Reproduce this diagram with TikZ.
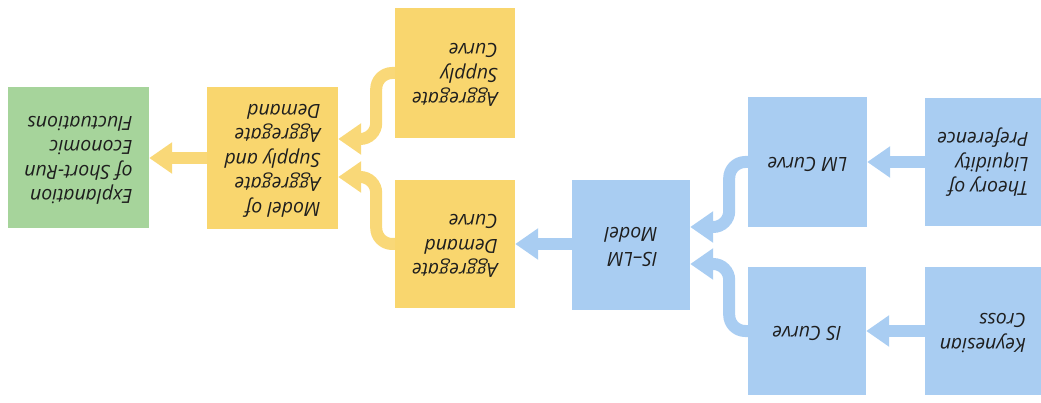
\documentclass[tikz,border=0pt]{standalone}
\usepackage{fontspec}
\setmainfont{Open Sans}
\usepackage{graphicx}
\usetikzlibrary{arrows.meta,calc}
\definecolor{bluebox}{HTML}{A9CDF2}
\definecolor{yellowbox}{HTML}{F9D66E}
\definecolor{greenbox}{HTML}{A6D49B}
\definecolor{bluearrow}{HTML}{A9CDF2}
\definecolor{yellowarrow}{HTML}{F9D878}
\definecolor{txt}{HTML}{1E1E1E}
\newcommand{\fliptext}[1]{\rotatebox{180}{\begin{tabular}{@{}l@{}}#1\end{tabular}}}
\tikzset{
  box/.style={rectangle, inner sep=0pt, draw=none, text=txt,
    font=\fontsize{19.5}{24.5}\selectfont\itshape},
  conn/.style={line width=12pt, rounded corners=16pt,
    -{Triangle[width=30pt,length=23pt]}},
  bconn/.style={conn, draw=bluearrow},
  yconn/.style={conn, draw=yellowarrow}
}
\begin{document}
\begin{tikzpicture}[x=1pt,y=-1pt]
\useasboundingbox (0,0) rectangle (1041,403);
% boxes
\node[box, fill=greenbox, minimum width=141pt, minimum height=141pt] (expl) at (78.5,158)
  {\fliptext{Explanation\\of Short-Run\\Economic\\Fluctuations}};
\node[box, fill=yellowbox, minimum width=131pt, minimum height=142pt] (model) at (272.5,158)
  {\fliptext{Model of\\Aggregate\\Supply and\\Aggregate\\Demand}};
\node[box, fill=yellowbox, minimum width=120pt, minimum height=130pt] (as) at (455,73)
  {\fliptext{Aggregate\\Supply\\Curve}};
\node[box, fill=yellowbox, minimum width=120pt, minimum height=128pt] (ad) at (455,244)
  {\fliptext{Aggregate\\Demand\\Curve}};
\node[box, fill=bluebox, minimum width=118pt, minimum height=130pt] (islm) at (631,245)
  {\fliptext{IS--LM\\Model}};
\node[box, fill=bluebox, minimum width=119pt, minimum height=130pt] (lm) at (807.5,162)
  {\fliptext{LM Curve}};
\node[box, fill=bluebox, minimum width=118pt, minimum height=128pt] (is) at (807,331)
  {\fliptext{IS Curve}};
\node[box, fill=bluebox, minimum width=116pt, minimum height=128pt] (theory) at (983,162)
  {\fliptext{Theory of\\Liquidity\\Preference}};
\node[box, fill=bluebox, minimum width=116pt, minimum height=128pt] (keyn) at (983,331)
  {\fliptext{Keynesian\\Cross}};
% connectors
\draw[bconn] (theory.west) -- (lm.east);
\draw[bconn] (keyn.west) -- (is.east);
\draw[bconn] (lm.west) -| ($(islm.east)+(39,-18)$) -- ($(islm.east)+(0,-18)$);
\draw[bconn] (is.west) -| ($(islm.east)+(39,19)$) -- ($(islm.east)+(0,19)$);
\draw[bconn] (islm.west |- ad.east) -- (ad.east);
\draw[yconn] (as.west) -| ($(model.east)+(38,-19)$) -- ($(model.east)+(0,-19)$);
\draw[yconn] (ad.west) -| ($(model.east)+(38,19)$) -- ($(model.east)+(0,19)$);
\draw[yconn] (model.west) -- (expl.east);
\end{tikzpicture}
\end{document}
